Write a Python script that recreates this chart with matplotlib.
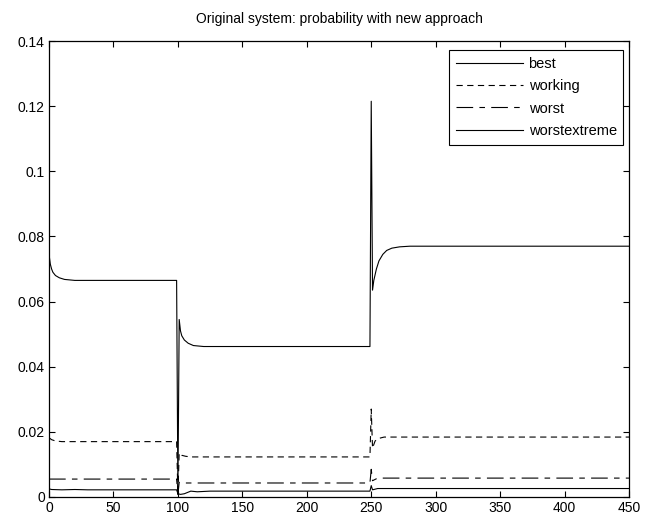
import matplotlib
matplotlib.use('agg')
import matplotlib.pyplot as plt

plt.rcParams['font.family'] = ['Liberation Sans', 'DejaVu Sans']
plt.rcParams['lines.scale_dashes'] = False

# breakpoints of each probability curve (time step, value)
t_best = [0, 1, 2, 3, 5, 8, 12, 20, 99, 100, 101, 102, 103, 105, 108, 112, 120,
          249, 250, 251, 252, 254, 256, 259, 262, 266, 272, 280, 450]
p_best = [0.0745, 0.0715, 0.0700, 0.0690, 0.0680, 0.0673, 0.0668, 0.0665, 0.0665,
          0.0010, 0.0545, 0.0510, 0.0495, 0.0482, 0.0472, 0.0465, 0.0462,
          0.0462, 0.1215, 0.0635, 0.0665, 0.0700, 0.0725, 0.0745, 0.0757,
          0.0764, 0.0768, 0.0770, 0.0770]

t_working = [0, 2, 5, 10, 99, 100, 101, 103, 106, 110, 249, 250, 251, 253, 256, 260, 450]
p_working = [0.0182, 0.0176, 0.0172, 0.0170, 0.0170, 0.0010, 0.0135, 0.0128, 0.0125,
             0.0123, 0.0123, 0.0270, 0.0150, 0.0172, 0.0180, 0.0184, 0.0184]

t_worst = [0, 99, 100, 101, 105, 249, 250, 251, 255, 450]
p_worst = [0.0055, 0.0055, 0.0008, 0.0045, 0.0043, 0.0043, 0.0085, 0.0050, 0.0058, 0.0058]

t_extreme = [0, 2, 10, 20, 30, 99, 100, 102, 105, 110, 115, 125, 249, 250, 251, 255, 450]
p_extreme = [0.0025, 0.0023, 0.0022, 0.0023, 0.0022, 0.0022, 0.0010, 0.0008, 0.0010,
             0.0018, 0.0016, 0.0018, 0.0018, 0.0035, 0.0022, 0.0026, 0.0026]

fig = plt.figure(figsize=(6.45, 5.19), dpi=100)
ax = fig.add_axes([0.0760, 0.0424, 0.8992, 0.8786])

lw = 0.8
ax.plot(t_best, p_best, color='black', lw=lw, label='best')
ax.plot(t_working, p_working, color='black', lw=lw, dashes=(4.5, 3.2), label='working')
ax.plot(t_worst, p_worst, color='black', lw=lw, dashes=(12, 4.5, 4, 4.5), label='worst')
ax.plot(t_extreme, p_extreme, color='black', lw=lw, label='worstextreme')

ax.set_xlim(0, 450)
ax.set_ylim(0, 0.14)
ax.set_xticks(range(0, 451, 50))
ax.set_yticks([0, 0.02, 0.04, 0.06, 0.08, 0.1, 0.12, 0.14])
ax.set_yticklabels(['0', '0.02', '0.04', '0.06', '0.08', '0.1', '0.12', '0.14'])
ax.tick_params(direction='in', top=True, right=True, length=4, width=0.8,
               labelsize=10, pad=3)
for s in ax.spines.values():
    s.set_linewidth(0.9)

ax.set_title('Original system: probability with new approach', fontsize=10, pad=13)

leg = ax.legend(loc='upper right', bbox_to_anchor=(0.99, 0.98), borderaxespad=0,
                fancybox=False, edgecolor='black', framealpha=1, fontsize=10.5,
                handlelength=4.6, handletextpad=0.4, labelspacing=0.58,
                borderpad=0.45)
leg.get_frame().set_linewidth(0.8)

fig.savefig('out.png', dpi=100)
